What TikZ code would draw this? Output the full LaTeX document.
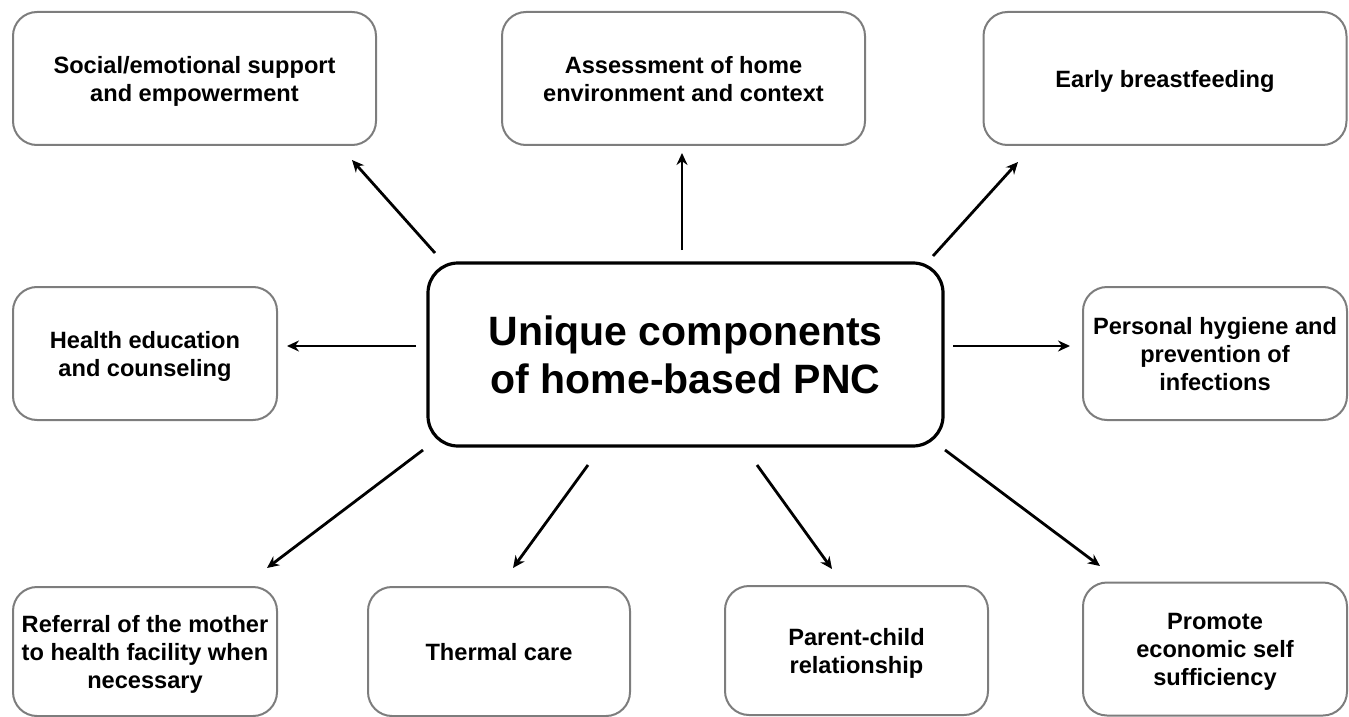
\documentclass[tikz,border=0pt]{standalone}
\usepackage{fontspec}
\setmainfont{Liberation Sans}
\usepackage{tikz}
\usetikzlibrary{arrows.meta,positioning,calc}
\usepackage{xcolor}
\definecolor{boxgray}{RGB}{125,125,125}

\begin{document}
\begin{tikzpicture}[x=0.5pt,y=-0.5pt,>={Stealth[length=6pt,width=5.5pt]},
    every node/.style={font=\bfseries\fontsize{11.8}{14}\selectfont,align=center},
    item/.style={draw=boxgray,line width=1pt,rounded corners=12pt,inner sep=0pt,minimum height=66.5pt,
      text depth=-2.6pt},
    wide/.style={item,minimum width=181.5pt},
    narrow/.style={item,minimum width=132pt},
    link/.style={->,line width=1.4pt}]
    \useasboundingbox (0,0) rectangle (1349,717);
    % centre box
    \node[draw,line width=1.6pt,rounded corners=15pt,minimum width=257.5pt,minimum height=91.5pt,
      font=\bfseries\fontsize{20.5}{24}\selectfont] (hub) at (685.5,354.5)
      {Unique components\\of home-based PNC};
    % top row
    \node[wide] (soc) at (194.5,78.5) {Social/emotional support\\and empowerment};
    \node[wide] (assess) at (683.5,78.5) {Assessment of home\\environment and context};
    \node[wide] (breast) at (1165,78.5) {Early breastfeeding};
    % sides
    \node[narrow] (educ) at (145,353.5) {Health education\\and counseling};
    \node[narrow] (hyg) at (1215,353.5) {Personal hygiene and\\prevention of\\infections};
    % bottom row
    \node[narrow,minimum height=64.5pt] (refer) at (145,651.5) {Referral of the mother\\to health facility when\\necessary};
    \node[narrow,minimum width=131pt,minimum height=64.5pt] (thermal) at (499,651.5) {Thermal care};
    \node[narrow,minimum width=131.5pt,minimum height=64.5pt] (bond) at (856.5,650.5) {Parent-child\\relationship};
    \node[narrow] (econ) at (1215,649) {Promote\\economic self\\sufficiency};
    % arrow ends, tails next to the hub
    \coordinate (t1) at (435,253);  \coordinate (h1) at (352,160);
    \coordinate (t2) at (682,250);  \coordinate (h2) at (682,153);
    \coordinate (t3) at (933,256);  \coordinate (h3) at (1018,162);
    \coordinate (t4) at (416,346);  \coordinate (h4) at (287,346);
    \coordinate (t5) at (953,346);  \coordinate (h5) at (1070,346);
    \coordinate (t6) at (423,450);  \coordinate (h6) at (267,568);
    \coordinate (t7) at (588,465);  \coordinate (h7) at (513,568);
    \coordinate (t8) at (757,465);  \coordinate (h8) at (832,569);
    \coordinate (t9) at (945,450);  \coordinate (h9) at (1100,566);
    \foreach \i in {1,...,9}{ \draw[link] (t\i) -- (h\i); }
\end{tikzpicture}
\end{document}
